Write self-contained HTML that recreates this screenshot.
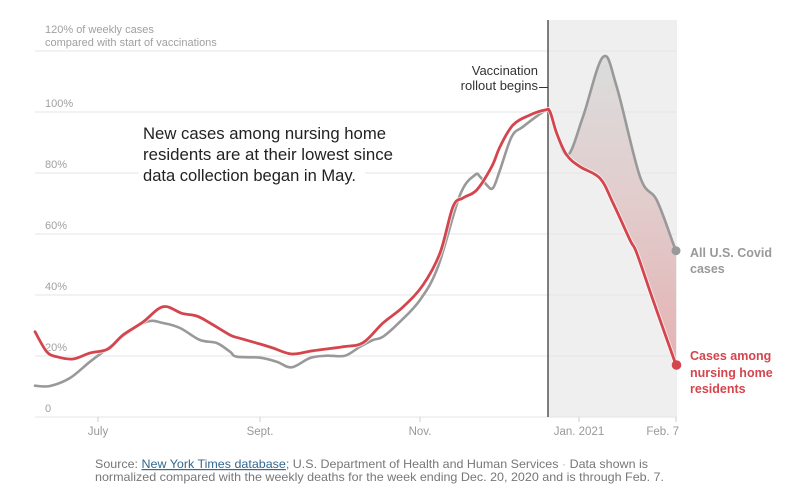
<!DOCTYPE html>
<html><head><meta charset="utf-8"><style>
html,body{margin:0;padding:0;background:#fff;}
svg{display:block;font-family:"Liberation Sans",Arial,sans-serif;}
</style></head><body>
<svg id="chart" width="792" height="500" viewBox="0 0 792 500" xmlns="http://www.w3.org/2000/svg">
<defs>
<linearGradient id="fg" gradientUnits="userSpaceOnUse" x1="0" y1="60" x2="0" y2="365">
<stop offset="0" stop-color="#dcdcdc"/>
<stop offset="0.45" stop-color="#e2cdcd"/>
<stop offset="1" stop-color="#e4b2b3"/>
</linearGradient>
</defs>
<rect x="548" y="20" width="129" height="397" fill="#efefef"/>
<g stroke="#e4e4e4" stroke-width="1">
<line x1="35" y1="51" x2="677" y2="51"/>
<line x1="35" y1="112" x2="677" y2="112"/>
<line x1="35" y1="173" x2="677" y2="173"/>
<line x1="35" y1="234" x2="677" y2="234"/>
<line x1="35" y1="295" x2="677" y2="295"/>
<line x1="35" y1="356" x2="677" y2="356"/>
<line x1="35" y1="417" x2="677" y2="417"/>
</g>
<g stroke="#cccccc" stroke-width="1">
<line x1="98" y1="417" x2="98" y2="422"/>
<line x1="260" y1="417" x2="260" y2="422"/>
<line x1="420" y1="417" x2="420" y2="422"/>
<line x1="579" y1="417" x2="579" y2="422"/>
<line x1="676" y1="417" x2="676" y2="422"/>
</g>
<g fill="#a0a0a0" font-size="11">
<text x="45" y="33">120% of weekly cases</text>
<text x="45" y="46">compared with start of vaccinations</text>
<text x="45" y="107">100%</text>
<text x="45" y="168">80%</text>
<text x="45" y="229">60%</text>
<text x="45" y="290">40%</text>
<text x="45" y="351">20%</text>
<text x="45" y="412">0</text>
</g>
<g fill="#999" font-size="11.5" text-anchor="middle">
<text x="98" y="435">July</text>
<text x="260" y="435">Sept.</text>
<text x="420" y="435">Nov.</text>
<text x="579" y="435">Jan. 2021</text>
<text x="679" y="435" text-anchor="end">Feb. 7</text>
</g>
<rect x="139" y="164" width="226" height="21" fill="#fff"/>
<g fill="#222" font-size="16.5">
<text x="143" y="139" textLength="243" lengthAdjust="spacingAndGlyphs">New cases among nursing home</text>
<text x="143" y="160" textLength="250" lengthAdjust="spacingAndGlyphs">residents are at their lowest since</text>
<text x="143" y="181" textLength="213" lengthAdjust="spacingAndGlyphs">data collection began in May.</text>
</g>
<polygon class="smf" fill="url(#fg)" data-split="8" points="568,155 583,116.7 603,57 616.7,86.7 640,176.7 656.7,200 673,243 676,250.7 676,365 653,300 636.7,253 630,240 613,203 600,178.3 580,166.7"/>
<line x1="548" y1="20" x2="548" y2="417" stroke="#555" stroke-width="1.5"/>
<g fill="#333" font-size="13" text-anchor="end">
<text x="538" y="75">Vaccination</text>
<text x="538" y="90">rollout begins</text>
</g>
<line x1="539" y1="87.5" x2="548" y2="87.5" stroke="#333" stroke-width="1"/>
<polyline class="sm" fill="none" stroke="#999" stroke-width="2.6" stroke-linejoin="round" stroke-linecap="round" points="35,385.7 50,386 70,378 90,361.7 110,346.7 123,336 146.7,321.7 163,323 180,328 200,340 216.7,343 230,351.7 236.7,356.7 260,357.7 276.7,361.7 291.7,367.3 310,358 326.7,355.7 345,355.7 360,346.7 373,340 383,336.7 400,321.7 420,300 438,266.7 460,195 475,175 480,176.7 486.7,185 493,188 500,170 511.7,136.7 523,126.7 545,110.7 550,112 556.7,133.3 568,155 583,116.7 603,57 616.7,86.7 640,176.7 656.7,200 673,243 676,250.7"/>
<polyline class="sm" fill="none" stroke="#fff" stroke-opacity="0.7" stroke-width="4.6" stroke-linejoin="round" stroke-linecap="round" points="35,331.7 46.7,351.7 56.7,356.7 73,359 90,353 108,349 123,335 143,322 163,306.7 181.7,313.3 196.7,316 210,323 230,335 240,338.3 260,344 273,348 291.7,354 313,350.7 343,346.7 363,342.7 383,323 403,307 423,285 440,253 453,206.7 463,198 476.7,190 491.7,166.7 500,146.7 513,125 530,115 545,110 550,111.7 556.7,133.3 566.7,155 580,166.7 600,178.3 613,203 630,240 636.7,253 653,300 676,365"/>
<polyline class="sm" fill="none" stroke="#d4454d" stroke-width="2.8" stroke-linejoin="round" stroke-linecap="round" points="35,331.7 46.7,351.7 56.7,356.7 73,359 90,353 108,349 123,335 143,322 163,306.7 181.7,313.3 196.7,316 210,323 230,335 240,338.3 260,344 273,348 291.7,354 313,350.7 343,346.7 363,342.7 383,323 403,307 423,285 440,253 453,206.7 463,198 476.7,190 491.7,166.7 500,146.7 513,125 530,115 545,110 550,111.7 556.7,133.3 566.7,155 580,166.7 600,178.3 613,203 630,240 636.7,253 653,300 676,365"/>
<circle cx="676" cy="250.7" r="4.5" fill="#999"/>
<circle cx="676.5" cy="365" r="4.8" fill="#d4454d"/>
<g font-weight="bold" font-size="12.5">
<text x="690" y="257" fill="#999">All U.S. Covid</text>
<text x="690" y="273" fill="#999">cases</text>
<text x="690" y="360" fill="#d4454d">Cases among</text>
<text x="690" y="377" fill="#d4454d">nursing home</text>
<text x="690" y="393" fill="#d4454d">residents</text>
</g>
<g font-size="12" fill="#777">
<text x="95" y="468" textLength="553" lengthAdjust="spacingAndGlyphs">Source: <tspan fill="#326891" text-decoration="underline">New York Times database</tspan>; U.S. Department of Health and Human Services <tspan fill="#bbb">  ·  </tspan> Data shown is</text>
<text x="95" y="481" textLength="569" lengthAdjust="spacingAndGlyphs">normalized compared with the weekly deaths for the week ending Dec. 20, 2020 and is through Feb. 7.</text>
</g>
</svg>
<script>
(function(){
  var NS="http://www.w3.org/2000/svg";
  function parse(s){return s.trim().split(/\s+/).map(function(p){var a=p.split(",");return [parseFloat(a[0]),parseFloat(a[1])];});}
  function cr(pts,t){
    var d="";
    for(var i=0;i<pts.length-1;i++){
      var p0=pts[i>0?i-1:i],p1=pts[i],p2=pts[i+1],p3=pts[i+2<pts.length?i+2:i+1];
      var c1x=p1[0]+(p2[0]-p0[0])*t,c1y=p1[1]+(p2[1]-p0[1])*t;
      var c2x=p2[0]-(p3[0]-p1[0])*t,c2y=p2[1]-(p3[1]-p1[1])*t;
      d+=" C"+c1x.toFixed(2)+","+c1y.toFixed(2)+" "+c2x.toFixed(2)+","+c2y.toFixed(2)+" "+p2[0]+","+p2[1];
    }
    return d;
  }
  try{
    var els=document.querySelectorAll("polyline.sm");
    for(var k=0;k<els.length;k++){
      var el=els[k],pts=parse(el.getAttribute("points"));
      var path=document.createElementNS(NS,"path");
      for(var a=0;a<el.attributes.length;a++){var at=el.attributes[a];if(at.name!=="points"&&at.name!=="class")path.setAttribute(at.name,at.value);}
      path.setAttribute("d","M"+pts[0][0]+","+pts[0][1]+cr(pts,0.17));
      el.parentNode.replaceChild(path,el);
    }
    var f=document.querySelector("polygon.smf");
    if(f){
      var pts=parse(f.getAttribute("points")),n=parseInt(f.getAttribute("data-split"));
      var top=pts.slice(0,n),bot=pts.slice(n-1).concat([pts[0]]);
      bot=pts.slice(n);bot.push(pts[0]);
      var d="M"+top[0][0]+","+top[0][1]+cr(top,0.17)+" L"+bot[0][0]+","+bot[0][1]+cr(bot,0.17)+" Z";
      var p=document.createElementNS(NS,"path");
      p.setAttribute("d",d);p.setAttribute("fill",f.getAttribute("fill"));
      f.parentNode.replaceChild(p,f);
    }
  }catch(e){}
})();
</script>
</body></html>
